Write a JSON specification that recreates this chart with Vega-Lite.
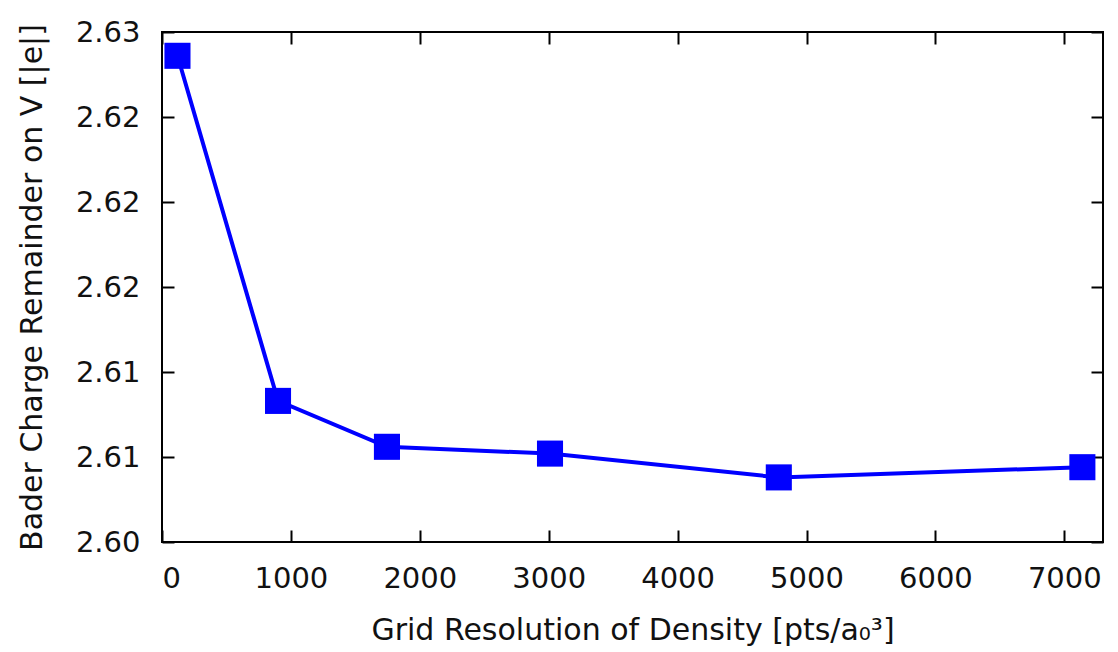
{
  "$schema": "https://vega.github.io/schema/vega-lite/v6.json",
  "width": 941,
  "height": 510,
  "autosize": {"type": "none"},
  "padding": {"left": 162, "top": 32, "right": 15, "bottom": 110},
  "background": "white",
  "data": {
    "values": [
      {"grid": 120, "charge": 2.6286},
      {"grid": 900, "charge": 2.6083},
      {"grid": 1745, "charge": 2.6056},
      {"grid": 3010, "charge": 2.6052},
      {"grid": 4785, "charge": 2.6038},
      {"grid": 7140, "charge": 2.6044}
    ]
  },
  "config": {
    "view": {"stroke": "black", "strokeWidth": 2},
    "font": "DejaVu Sans",
    "axis": {
      "grid": false,
      "domain": false,
      "tickColor": "black",
      "tickWidth": 2,
      "tickSize": -12,
      "labelColor": "#111",
      "titleColor": "#111",
      "labelFont": "DejaVu Sans",
      "titleFont": "DejaVu Sans",
      "labelFontSize": 29,
      "titleFontSize": 30,
      "titleFontWeight": "normal"
    }
  },
  "layer": [
    {
      "mark": {"type": "line", "color": "#0000ff", "strokeWidth": 4},
      "encoding": {
        "x": {
          "field": "grid",
          "type": "quantitative",
          "scale": {"domain": [0, 7300], "nice": false, "zero": false},
          "axis": {
            "orient": "bottom",
            "values": [0, 1000, 2000, 3000, 4000, 5000, 6000, 7000],
            "format": "d",
            "labelPadding": 34,
            "title": "Grid Resolution of Density [pts/a₀³]",
            "titlePadding": 22
          }
        },
        "y": {
          "field": "charge",
          "type": "quantitative",
          "scale": {"domain": [2.6, 2.63], "nice": false, "zero": false},
          "axis": {
            "orient": "left",
            "values": [2.6, 2.605, 2.61, 2.615, 2.62, 2.625, 2.63],
            "labelExpr": "datum.value < 2.6025 ? '2.60' : datum.value < 2.6125 ? '2.61' : datum.value < 2.6275 ? '2.62' : '2.63'",
            "labelPadding": 34,
            "title": "Bader Charge Remainder on V [|e|]",
            "titlePadding": 28
          }
        }
      }
    },
    {
      "mark": {"type": "point", "shape": "square", "filled": true, "color": "#0000ff", "size": 680, "opacity": 1},
      "encoding": {
        "x": {"field": "grid", "type": "quantitative", "scale": {"domain": [0, 7300], "nice": false, "zero": false}, "axis": null},
        "y": {"field": "charge", "type": "quantitative", "scale": {"domain": [2.6, 2.63], "nice": false, "zero": false}, "axis": null}
      }
    },
    {
      "mark": {"type": "point", "opacity": 0},
      "encoding": {
        "x": {
          "field": "grid",
          "type": "quantitative",
          "scale": {"domain": [0, 7300], "nice": false, "zero": false},
          "axis": {
            "orient": "top",
            "values": [0, 1000, 2000, 3000, 4000, 5000, 6000, 7000],
            "labels": false,
            "title": null
          }
        },
        "y": {
          "field": "charge",
          "type": "quantitative",
          "scale": {"domain": [2.6, 2.63], "nice": false, "zero": false},
          "axis": {
            "orient": "right",
            "values": [2.6, 2.605, 2.61, 2.615, 2.62, 2.625, 2.63],
            "labels": false,
            "title": null
          }
        }
      }
    }
  ],
  "resolve": {"axis": {"x": "independent", "y": "independent"}}
}
